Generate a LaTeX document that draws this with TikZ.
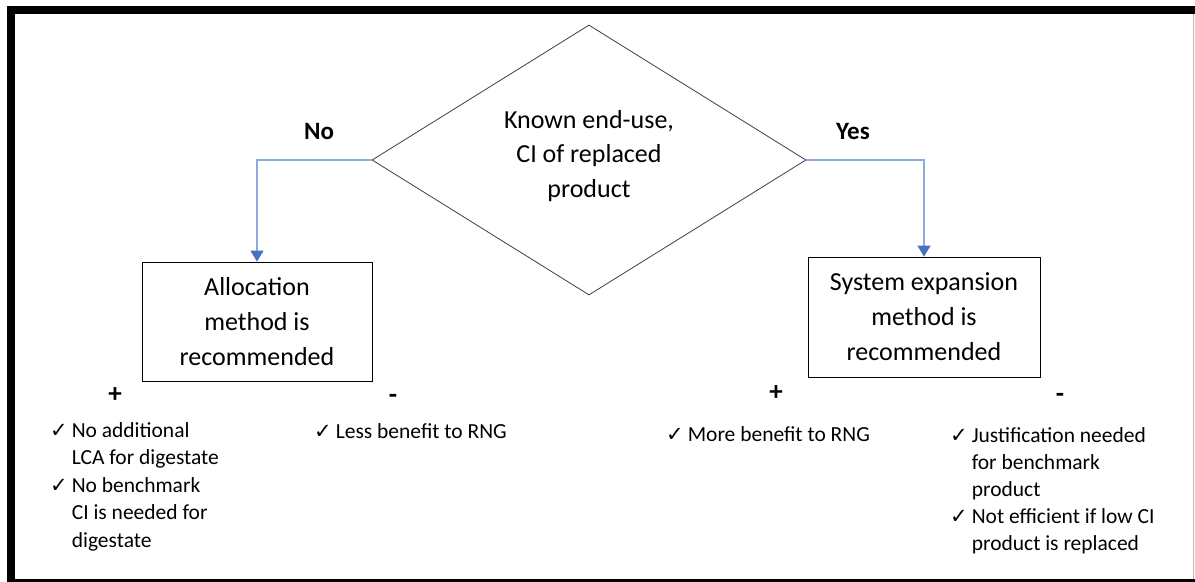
\documentclass[tikz,border=0pt]{standalone}
\usepackage{fontspec}
\setmainfont{Carlito}
\newfontfamily\symfont{DejaVu Sans}
\usetikzlibrary{shapes.geometric,arrows.meta}
\definecolor{flowcol}{rgb}{0.56,0.67,0.86}
\definecolor{tipcol}{rgb}{0.27,0.45,0.77}
\definecolor{diacol}{rgb}{0.25,0.25,0.25}
\definecolor{edgecol}{rgb}{0.72,0.72,0.72}
\newcommand{\chk}{{\symfont\fontsize{21bp}{21bp}\selectfont ✓}}
\newcommand{\prolist}[1]{\begin{tabular}{@{}l@{\hspace{4bp}}l@{}}#1\end{tabular}}

\tikzset{
  decision/.style={diamond, draw=diacol, line width=0.8bp, minimum width=434bp, minimum height=267bp, inner sep=0pt, align=center, font=\fontsize{26bp}{34.5bp}\selectfont},
  method/.style={rectangle, draw=black, line width=0.8bp, inner sep=0pt, align=center, font=\fontsize{26bp}{35bp}\selectfont},
  answer/.style={inner sep=0pt, font=\bfseries\fontsize{25bp}{30bp}\selectfont},
  sign/.style={inner sep=0pt, font=\bfseries\fontsize{27bp}{30bp}\selectfont},
  pros/.style={anchor=north west, inner sep=0pt, align=left, font=\fontsize{21.5bp}{27.5bp}\selectfont},
  flow/.style={draw=flowcol, line width=1.2bp, -{Triangle[length=11bp,width=13bp,color=tipcol]}},
}

\begin{document}
\begin{tikzpicture}[x=1bp,y=-1bp]
  \useasboundingbox (0,0) rectangle (1195,582);
%%
  % Frame
  \fill[white] (0,0) rectangle (1195,582);
  \fill[black] (7,6) rectangle (1195,14);
  \fill[black] (7,6) rectangle (15,582);
  \fill[black] (7,579) rectangle (1195,582);
  \draw[edgecol, line width=1bp] (1193.5,14) -- (1193.5,579);
  % Node: decision
  \node[decision] (dec) at (589,160) {Known end-use,\\CI of replaced\\product\rule[-13bp]{0pt}{0pt}};
  % Node: allocation
  \node[method, minimum width=230bp, minimum height=119bp] (alloc) at (257,321.5) {Allocation\\method is\\recommended};
  % Node: system expansion
  \node[method, minimum width=232bp, minimum height=120bp] (sysexp) at (924,317) {System expansion\\method is\\recommended};
  % Edge: dec -> alloc
  \draw[flow] (dec.west) -| (alloc.north);
  \node[answer] (no) at (319,131) {No};
  % Edge: dec -> sysexp
  \draw[flow] (dec.east) -| (sysexp.north);
  \node[answer] (yes) at (853,131) {Yes};
  % Allocation: pros and cons
  \node[sign] (allocplus) at (115,395) {+};
  \node[sign] (allocminus) at (393,399) {-};
  \node[pros] (allocpros) at (50,418) {\prolist{%
    \chk & No additional\\
         & LCA for digestate\\
    \chk & No benchmark\\
         & CI is needed for\\
         & digestate}};
  \node[pros] (alloccons) at (314,419) {\prolist{\chk & Less benefit to RNG}};
  % System expansion: pros and cons
  \node[sign] (sysplus) at (776,393) {+};
  \node[sign] (sysminus) at (1060,398) {-};
  \node[pros] (syspros) at (666,422) {\prolist{\chk & More benefit to RNG}};
  \node[pros, font=\fontsize{21.5bp}{27bp}\selectfont] (syscons) at (950,423) {\prolist{%
    \chk & Justification needed\\
         & for benchmark\\
         & product\\
    \chk & Not efficient if low CI\\
         & product is replaced}};
%
\end{tikzpicture}
\end{document}
